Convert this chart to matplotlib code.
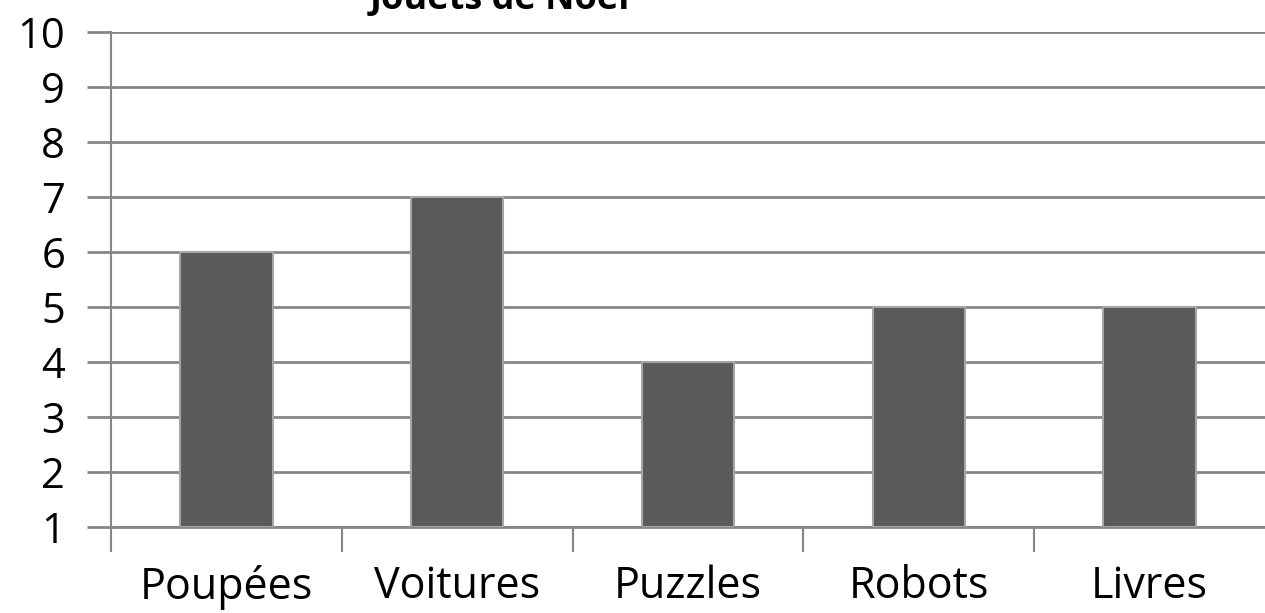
import matplotlib.pyplot as plt
import numpy as np

CATEGORIES = ["Poupées", "Voitures", "Puzzles", "Robots", "Livres"]
VALUES = [6, 7, 4, 5, 5]
Y_TICKS = list(range(1, 11))
TITLE = "Jouets de Noël"

BAR_COLOR = "#5a5a5a"
GRID_COLOR = "#868686"

plt.rcParams["font.family"] = ["Open Sans", "DejaVu Sans"]

fig = plt.figure(figsize=(12.65, 6.13), dpi=100)
ax = fig.add_axes([111 / 1265, 1 - 527 / 613, 1 - 111 / 1265, (527 - 32) / 613])

x = np.arange(len(CATEGORIES))
ax.bar(x, [v - 1 for v in VALUES], bottom=1, width=0.4,
       color=BAR_COLOR, edgecolor="#a6a6a6", linewidth=1.5, zorder=3)

ax.set_ylim(1, 10)
ax.set_xlim(-0.5, len(CATEGORIES) - 0.5)
ax.set_yticks(Y_TICKS)
ax.set_yticklabels([str(t) for t in Y_TICKS])
ax.yaxis.grid(True, color=GRID_COLOR, linewidth=2, zorder=1)

# category boundaries carry the tick marks, labels sit at the centres
ax.set_xticks(np.arange(len(CATEGORIES)) - 0.5)
ax.set_xticklabels([])
ax.set_xticks(x, minor=True)
ax.set_xticklabels(CATEGORIES, minor=True)
ax.tick_params(axis="x", which="minor", length=0, pad=27, labelsize=31)
ax.tick_params(axis="x", which="major", length=18, width=1.5, color=GRID_COLOR)
ax.tick_params(axis="y", length=17, width=2, color=GRID_COLOR, pad=16, labelsize=30)

for side in ["top", "right"]:
    ax.spines[side].set_visible(False)
ax.spines["left"].set_color(GRID_COLOR)
ax.spines["left"].set_linewidth(1.5)
ax.spines["bottom"].set_color(GRID_COLOR)
ax.spines["bottom"].set_linewidth(2)

fig.text(500 / 1265, 1 - 9 / 613, TITLE, ha="center", va="baseline",
         fontsize=26, fontweight="bold")

fig.savefig("out.png", dpi=100)
